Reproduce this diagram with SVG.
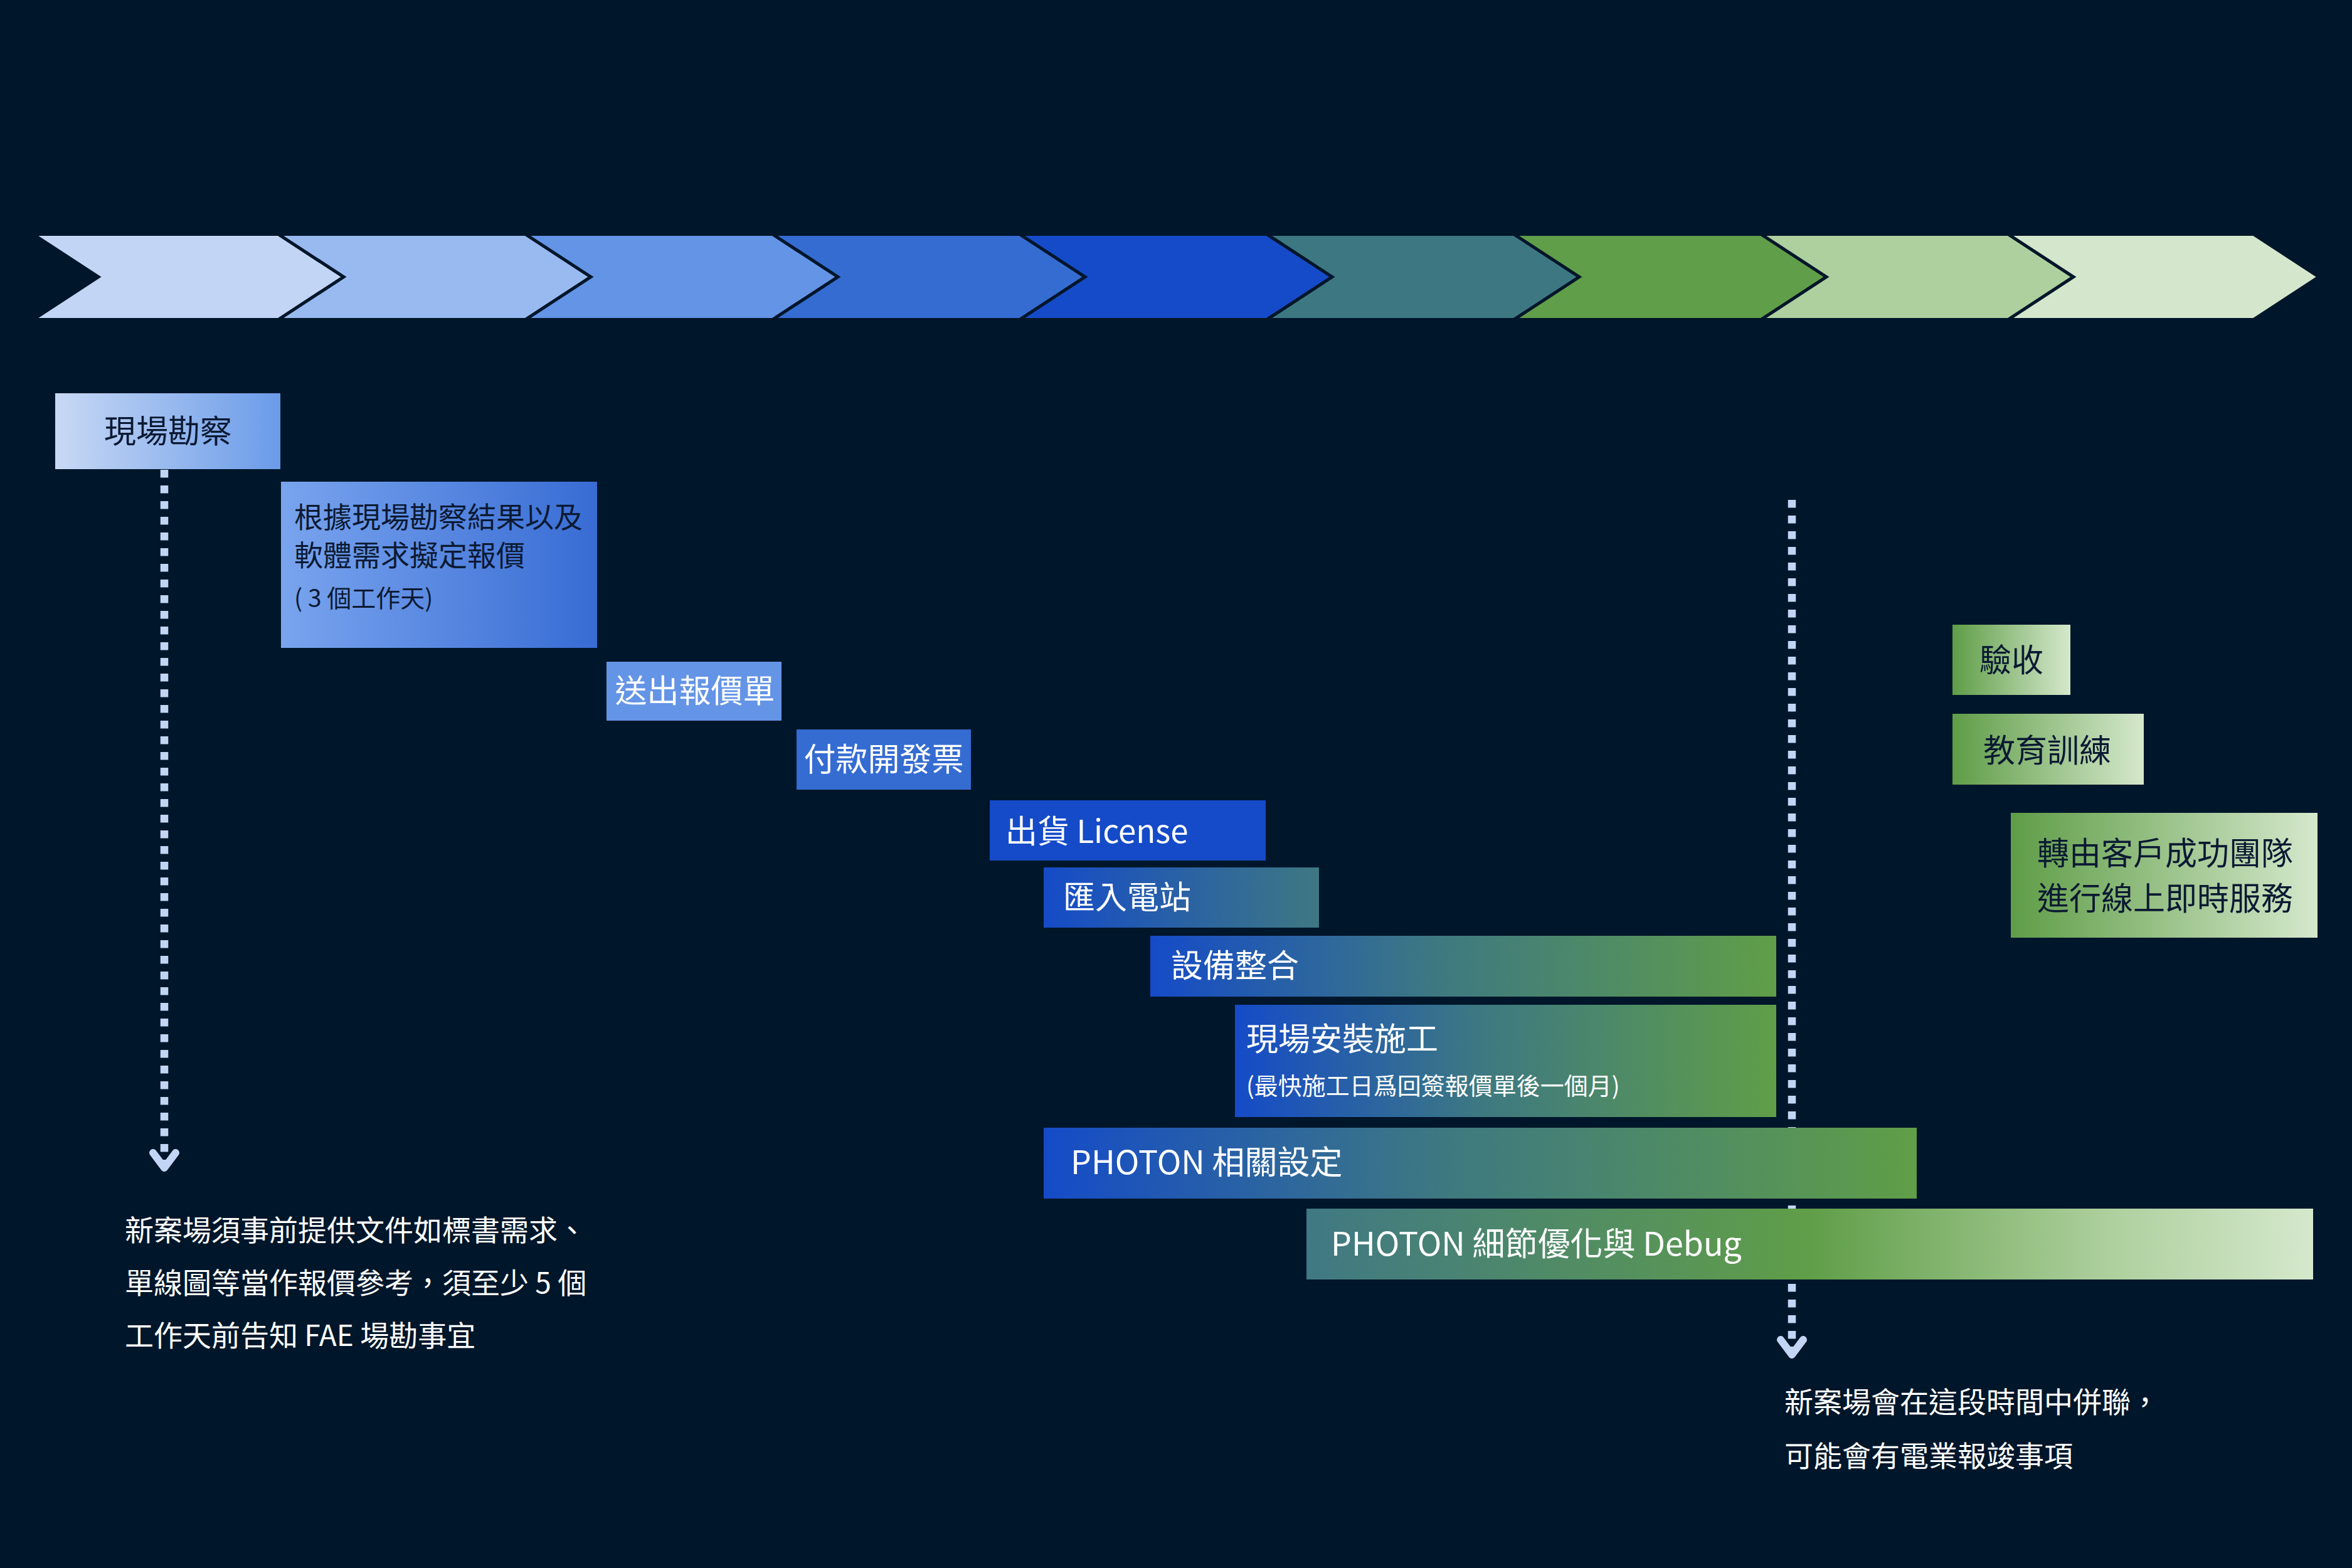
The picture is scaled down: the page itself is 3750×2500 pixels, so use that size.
<svg xmlns="http://www.w3.org/2000/svg" width="3750" height="2500" viewBox="0 0 3750 2500">
<style>
.t{font-family:"Noto Sans CJK TC","Noto Sans CJK SC",sans-serif;dominant-baseline:central}
.d{fill:#0B1A33}
.w{fill:#FFFFFF}
.m{text-anchor:middle}
.chev{stroke:#00162A;stroke-width:5;stroke-linejoin:miter}
.dash{fill:none;stroke:#C2D5F5;stroke-width:12.5;stroke-dasharray:12.5 12.5}
</style>
<defs>
<linearGradient id="gA" x1="0" y1="0" x2="1" y2="0"><stop offset="0" stop-color="#C8D9F5"/><stop offset="1" stop-color="#6A9BE9"/></linearGradient>
<linearGradient id="gB" x1="0" y1="0" x2="1" y2="0"><stop offset="0" stop-color="#79A4EE"/><stop offset="1" stop-color="#386CD4"/></linearGradient>
<linearGradient id="gC" x1="0" y1="0" x2="1" y2="0"><stop offset="0" stop-color="#154BC8"/><stop offset="1" stop-color="#3E7882"/></linearGradient>
<linearGradient id="gD" x1="0" y1="0" x2="1" y2="0"><stop offset="0" stop-color="#154BC8"/><stop offset="0.45" stop-color="#3D7882"/><stop offset="1" stop-color="#609E48"/></linearGradient>
<linearGradient id="gE" x1="0" y1="0" x2="1" y2="0"><stop offset="0" stop-color="#407884"/><stop offset="0.5" stop-color="#609E48"/><stop offset="0.8" stop-color="#AED09E"/><stop offset="1" stop-color="#D5E8CC"/></linearGradient>
<linearGradient id="gF" x1="0" y1="0" x2="1" y2="0"><stop offset="0" stop-color="#5F9D47"/><stop offset="1" stop-color="#D5E8CC"/></linearGradient>
<marker id="arr" markerUnits="userSpaceOnUse" orient="auto" refX="0" refY="0" markerWidth="60" markerHeight="60" overflow="visible">
<polyline points="-24,-18 0,0 -24,18" fill="none" stroke="#C2D5F5" stroke-width="12" stroke-linecap="round" stroke-linejoin="round"/>
</marker>
</defs>
<rect x="0" y="0" width="3750" height="2500" fill="#00162A"/>
<g id="timeline">
<polygon class="chev" fill="#C2D5F5" points="53,373.5 444,373.5 548,441.5 444,509.5 53,509.5 157,441.5"/>
<polygon class="chev" fill="#99BAF0" points="444,373.5 838,373.5 942,441.5 838,509.5 444,509.5 548,441.5"/>
<polygon class="chev" fill="#6494E6" points="838,373.5 1232,373.5 1336,441.5 1232,509.5 838,509.5 942,441.5"/>
<polygon class="chev" fill="#356CD2" points="1232,373.5 1626,373.5 1730,441.5 1626,509.5 1232,509.5 1336,441.5"/>
<polygon class="chev" fill="#154BC8" points="1626,373.5 2020,373.5 2124,441.5 2020,509.5 1626,509.5 1730,441.5"/>
<polygon class="chev" fill="#3D7882" points="2020,373.5 2414,373.5 2518,441.5 2414,509.5 2020,509.5 2124,441.5"/>
<polygon class="chev" fill="#609E49" points="2414,373.5 2808,373.5 2912,441.5 2808,509.5 2414,509.5 2518,441.5"/>
<polygon class="chev" fill="#AED09F" points="2808,373.5 3202,373.5 3306,441.5 3202,509.5 2808,509.5 2912,441.5"/>
<polygon class="chev" fill="#D4E7CC" points="3202,373.5 3593,373.5 3697,441.5 3593,509.5 3202,509.5 3306,441.5"/>
</g>
<g id="connectors">
<line class="dash" x1="262" y1="749" x2="262" y2="1862" marker-end="url(#arr)"/>
<line class="dash" x1="2857" y1="797" x2="2857" y2="2160" marker-end="url(#arr)"/>
</g>
<g id="n-survey"><rect x="88" y="627" width="359" height="121" fill="url(#gA)"/><text class="t d m" x="268" y="684" font-size="51">現場勘察</text></g>
<g id="n-quote"><rect x="448" y="768" width="504" height="265" fill="url(#gB)"/>
<text class="t d" x="469" y="821" font-size="46">根據現場勘察結果以及</text>
<text class="t d" x="469" y="882" font-size="46">軟體需求擬定報價</text>
<text class="t d" x="469" y="951" font-size="39">( 3 個工作天)</text></g>
<g id="n-send"><rect x="967" y="1055" width="279" height="94" fill="#6494E6"/><text class="t w m" x="1108" y="1098" font-size="51">送出報價單</text></g>
<g id="n-pay"><rect x="1270" y="1163" width="278" height="96" fill="#356CD2"/><text class="t w m" x="1409" y="1207" font-size="51">付款開發票</text></g>
<g id="n-license"><rect x="1578" y="1276" width="440" height="96" fill="#154BC8"/><text class="t w" x="1603" y="1322" font-size="51">出貨 License</text></g>
<g id="n-import"><rect x="1664" y="1383" width="439" height="96" fill="url(#gC)"/><text class="t w" x="1695" y="1427" font-size="51">匯入電站</text></g>
<g id="n-device"><rect x="1834" y="1492" width="998" height="97" fill="url(#gD)"/><text class="t w" x="1867" y="1536" font-size="51">設備整合</text></g>
<g id="n-install"><rect x="1969" y="1602" width="863" height="179" fill="url(#gD)"/>
<text class="t w" x="1987" y="1653" font-size="51">現場安裝施工</text>
<text class="t w" x="1987" y="1728" font-size="38">(最快施工日爲回簽報價單後一個月)</text></g>
<g id="n-photon"><rect x="1664" y="1798" width="1392" height="113" fill="url(#gD)"/><text class="t w" x="1707" y="1849" font-size="52">PHOTON 相關設定</text></g>
<g id="n-debug"><rect x="2083" y="1927" width="1605" height="113" fill="url(#gE)"/><text class="t w" x="2122" y="1979" font-size="52">PHOTON 細節優化與 Debug</text></g>
<g id="n-accept"><rect x="3113" y="996" width="188" height="112" fill="url(#gF)"/><text class="t d m" x="3207" y="1049" font-size="51">驗收</text></g>
<g id="n-train"><rect x="3113" y="1138" width="305" height="113" fill="url(#gF)"/><text class="t d m" x="3264" y="1193" font-size="51">教育訓練</text></g>
<g id="n-cs"><rect x="3206" y="1296" width="489" height="199" fill="url(#gF)"/>
<text class="t d m" x="3452" y="1357" font-size="51">轉由客戶成功團隊</text>
<text class="t d m" x="3452" y="1429" font-size="51">進行線上即時服務</text></g>
<g id="note-left">
<text class="t w" x="199" y="1958" font-size="46">新案場須事前提供文件如標書需求、</text>
<text class="t w" x="199" y="2042" font-size="46">單線圖等當作報價參考，須至少 5 個</text>
<text class="t w" x="199" y="2126" font-size="46">工作天前告知 FAE 場勘事宜</text>
</g>
<g id="note-right">
<text class="t w" x="2845" y="2232" font-size="46">新案場會在這段時間中併聯，</text>
<text class="t w" x="2845" y="2318" font-size="46">可能會有電業報竣事項</text>
</g>
</svg>
